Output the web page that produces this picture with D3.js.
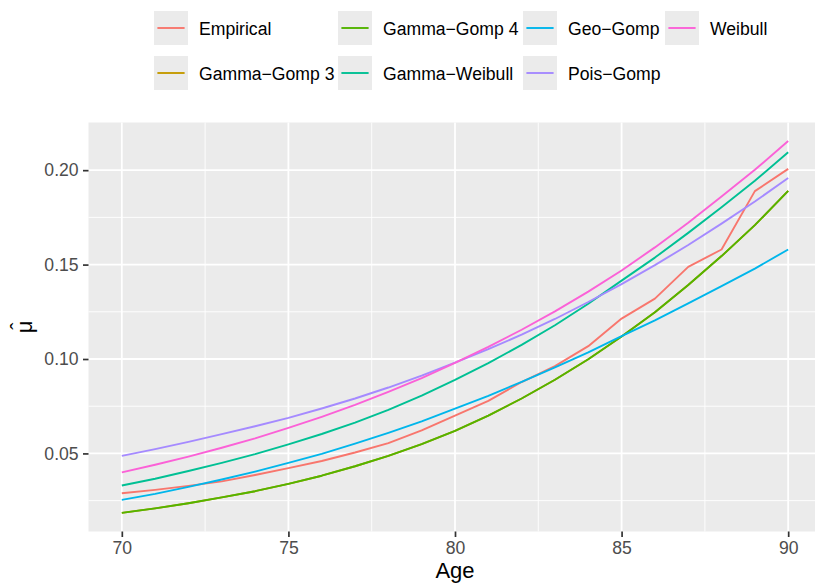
<!DOCTYPE html>
<html>
<head>
<meta charset="utf-8">
<script src="https://cdn.jsdelivr.net/npm/d3@7"></script>
<style>
  html, body { margin: 0; padding: 0; background: #ffffff; }
  svg { display: block; font-family: "Liberation Sans", Arial, Helvetica, sans-serif; }
</style>
</head>
<body>
<svg id="chart" width="815" height="583"></svg>
<script>
// Ages on the x axis
const ages = [70, 71, 72, 73, 74, 75, 76, 77, 78, 79, 80, 81, 82, 83, 84, 85, 86, 87, 88, 89, 90];

// Estimated mortality rate (mu hat) per model
const empirical    = [0.0289, 0.0307, 0.0328, 0.0352, 0.0386, 0.0422, 0.0460, 0.0505, 0.0555, 0.0622, 0.0700,
                      0.0778, 0.0878, 0.0962, 0.1068, 0.1214, 0.1320, 0.1488, 0.1580, 0.1889, 0.2007];
const gammaGomp3   = [0.0185, 0.0209, 0.0236, 0.0267, 0.0300, 0.0339, 0.0382, 0.0432, 0.0487, 0.0549, 0.0620,
                      0.0700, 0.0791, 0.0890, 0.0999, 0.1119, 0.1248, 0.1392, 0.1545, 0.1709, 0.1890];
const gammaGomp4   = [0.0185, 0.0209, 0.0236, 0.0267, 0.0300, 0.0339, 0.0382, 0.0432, 0.0487, 0.0549, 0.0620,
                      0.0700, 0.0791, 0.0890, 0.0999, 0.1119, 0.1248, 0.1392, 0.1545, 0.1709, 0.1890];
const gammaWeibull = [0.0330, 0.0366, 0.0407, 0.0450, 0.0496, 0.0548, 0.0603, 0.0663, 0.0731, 0.0806, 0.0889,
                      0.0978, 0.1075, 0.1179, 0.1293, 0.1415, 0.1537, 0.1668, 0.1804, 0.1944, 0.2095];
const geoGomp      = [0.0254, 0.0286, 0.0323, 0.0362, 0.0404, 0.0450, 0.0498, 0.0552, 0.0609, 0.0670, 0.0737,
                      0.0805, 0.0879, 0.0956, 0.1035, 0.1121, 0.1205, 0.1295, 0.1386, 0.1479, 0.1580];
const poisGomp     = [0.0487, 0.0523, 0.0561, 0.0602, 0.0644, 0.0688, 0.0738, 0.0791, 0.0849, 0.0912, 0.0981,
                      0.1052, 0.1129, 0.1212, 0.1302, 0.1397, 0.1497, 0.1604, 0.1717, 0.1834, 0.1959];
const weibull      = [0.0400, 0.0440, 0.0483, 0.0530, 0.0580, 0.0635, 0.0694, 0.0757, 0.0826, 0.0899, 0.0979,
                      0.1064, 0.1155, 0.1252, 0.1357, 0.1469, 0.1591, 0.1722, 0.1860, 0.2002, 0.2154];

const seriesNames  = ["Empirical", "Gamma\u2212Gomp 3", "Gamma\u2212Gomp 4", "Gamma\u2212Weibull",
                      "Geo\u2212Gomp", "Pois\u2212Gomp", "Weibull"];
const seriesValues = [empirical, gammaGomp3, gammaGomp4, gammaWeibull, geoGomp, poisGomp, weibull];
const seriesColors = ["#F8766D", "#C49A00", "#53B400", "#00C094", "#00B6EB", "#A58AFF", "#FB61D7"];

const xTicks = [70, 75, 80, 85, 90];
const xMinor = [72.5, 77.5, 82.5, 87.5];
const yTicks = [0.05, 0.10, 0.15, 0.20];
const yMinor = [0.025, 0.075, 0.125, 0.175];

const series = seriesNames.map((name, i) => ({
  name, color: seriesColors[i],
  points: ages.map((a, j) => ({ age: a, mu: seriesValues[i][j] }))
}));

const svg = d3.select("#chart");
const panel = { left: 88.5, right: 821.5, top: 122.5, bottom: 531.5 };

// 5% padding on each side of the data range
function expand(ext) { const d = (ext[1] - ext[0]) * 0.05; return [ext[0] - d, ext[1] + d]; }
const allMu = seriesValues.flat();

const x = d3.scaleLinear().domain(expand(d3.extent(ages))).range([panel.left, panel.right]);
const y = d3.scaleLinear().domain(expand(d3.extent(allMu))).range([panel.bottom, panel.top]);

// panel background
svg.append("rect")
  .attr("x", panel.left).attr("y", panel.top)
  .attr("width", panel.right - panel.left).attr("height", panel.bottom - panel.top)
  .attr("fill", "#EBEBEB");

const grid = svg.append("g");
grid.selectAll(".xminor").data(xMinor).join("line")
  .attr("x1", d => x(d)).attr("x2", d => x(d)).attr("y1", panel.top).attr("y2", panel.bottom)
  .attr("stroke", "#fff").attr("stroke-width", 0.9);
grid.selectAll(".yminor").data(yMinor).join("line")
  .attr("y1", d => y(d)).attr("y2", d => y(d)).attr("x1", panel.left).attr("x2", panel.right)
  .attr("stroke", "#fff").attr("stroke-width", 0.9);
grid.selectAll(".xmajor").data(xTicks).join("line")
  .attr("x1", d => x(d)).attr("x2", d => x(d)).attr("y1", panel.top).attr("y2", panel.bottom)
  .attr("stroke", "#fff").attr("stroke-width", 1.8);
grid.selectAll(".ymajor").data(yTicks).join("line")
  .attr("y1", d => y(d)).attr("y2", d => y(d)).attr("x1", panel.left).attr("x2", panel.right)
  .attr("stroke", "#fff").attr("stroke-width", 1.8);

// model curves
const line = d3.line().x(d => x(d.age)).y(d => y(d.mu));
svg.append("g").selectAll("path").data(series).join("path")
  .attr("d", d => line(d.points))
  .attr("fill", "none")
  .attr("stroke", d => d.color)
  .attr("stroke-width", 1.9)
  .attr("stroke-linejoin", "round");

// axes
const xAxis = d3.axisBottom(x).tickValues(xTicks).tickSize(5.5).tickPadding(4.4).tickFormat(d3.format("d"));
const yAxis = d3.axisLeft(y).tickValues(yTicks).tickSize(5.5).tickPadding(4.4).tickFormat(d3.format(".2f"));

const gx = svg.append("g").attr("transform", `translate(0,${panel.bottom})`).call(xAxis);
const gy = svg.append("g").attr("transform", `translate(${panel.left},0)`).call(yAxis);
[gx, gy].forEach(g => {
  g.select(".domain").remove();
  g.selectAll(".tick line").attr("stroke", "#333333").attr("stroke-width", 1.7);
  g.selectAll(".tick text").attr("fill", "#4D4D4D")
    .style("font-size", "17.6px")
    .style("font-family", "'Liberation Sans', Arial, Helvetica, sans-serif");
});
gx.selectAll(".tick text").attr("dy", "0.71em");

// axis titles
svg.append("text")
  .attr("x", (panel.left + panel.right) / 2).attr("y", 577.5)
  .attr("text-anchor", "middle").attr("fill", "#000")
  .style("font-size", "22px").text("Age");

// y title: mu with a hat, rotated
const yTitle = svg.append("g")
  .attr("transform", `translate(32,${(panel.top + panel.bottom) / 2}) rotate(-90)`);
yTitle.append("text")
  .attr("text-anchor", "middle").attr("fill", "#000")
  .style("font-size", "22px").text("\u03BC");
yTitle.append("text")
  .attr("x", 1).attr("y", -6)
  .attr("text-anchor", "middle").attr("fill", "#000")
  .style("font-size", "22px").text("\u02C6");

// legend: 2 rows, filled column by column
const colX = [154, 338, 523, 665];
const rowY = [11, 56];
const key = 34;
const legend = svg.append("g").selectAll("g").data(series).join("g")
  .attr("transform", (d, i) => `translate(${colX[Math.floor(i / 2)]},${rowY[i % 2]})`);
legend.append("rect").attr("width", key).attr("height", key).attr("fill", "#EBEBEB");
legend.append("line")
  .attr("x1", 3.4).attr("x2", key - 3.4).attr("y1", key / 2).attr("y2", key / 2)
  .attr("stroke", d => d.color).attr("stroke-width", 1.9);
legend.append("text")
  .attr("x", key + 11).attr("y", key / 2).attr("dy", "0.4em")
  .attr("fill", "#000").style("font-size", "17.6px")
  .text(d => d.name);
</script>
</body>
</html>
